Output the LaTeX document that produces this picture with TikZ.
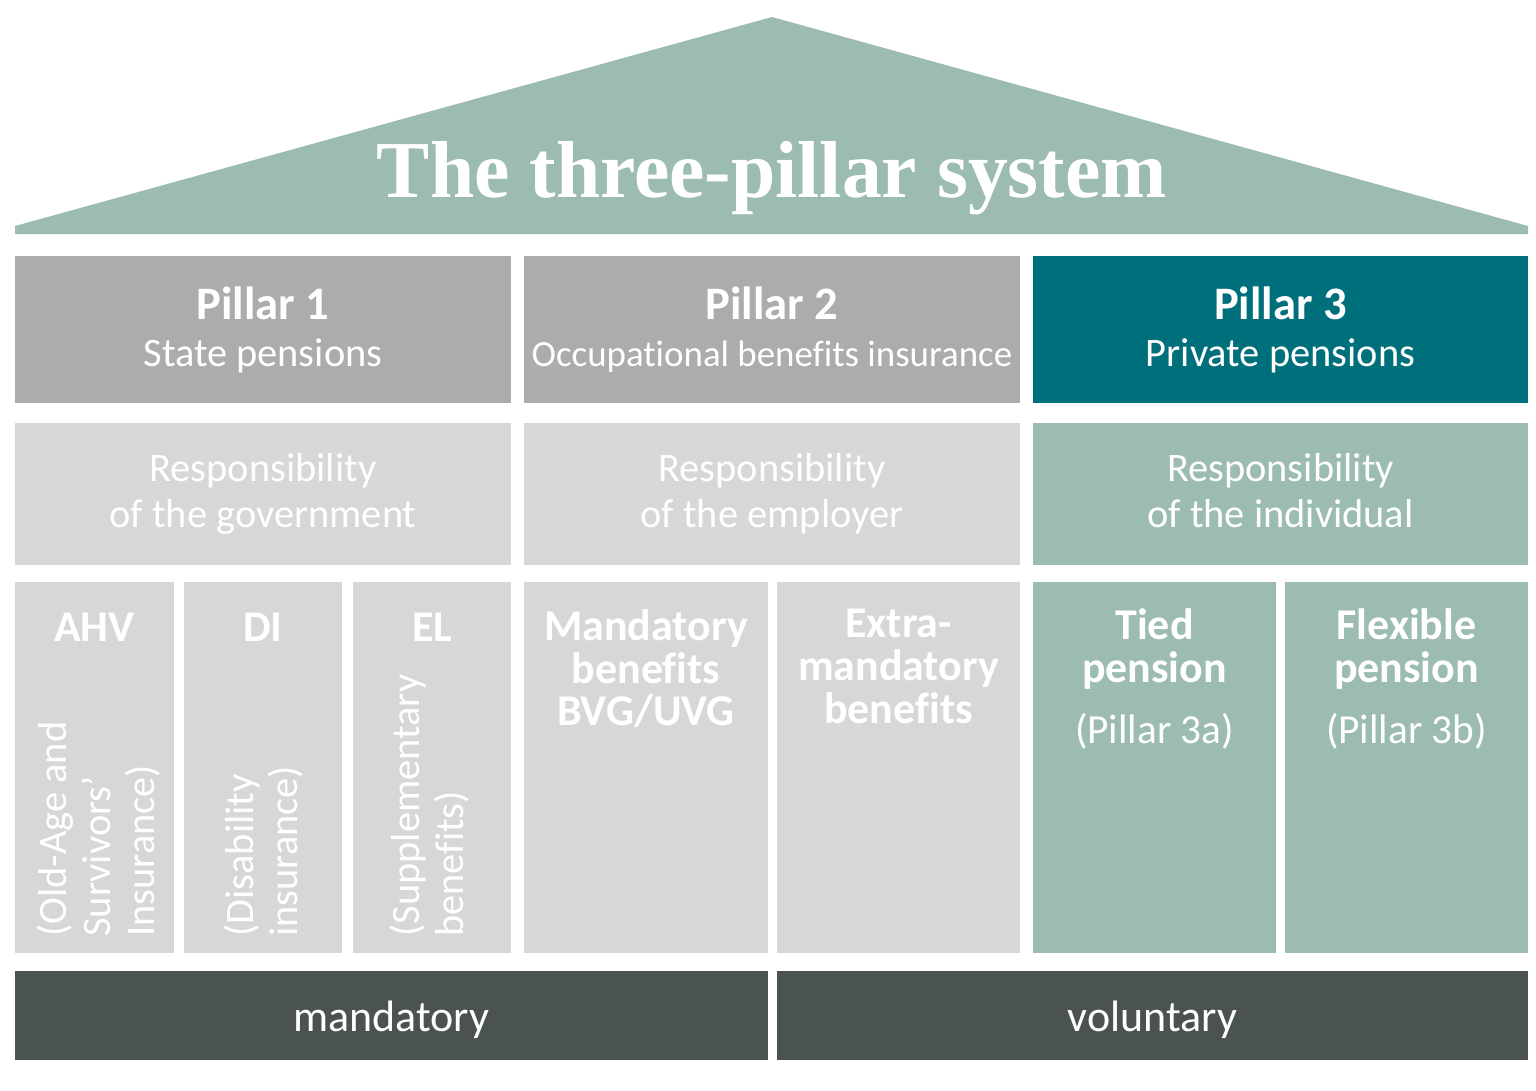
\documentclass[tikz,border=0pt]{standalone}
\usepackage{fontspec}
\setmainfont{Carlito}[Ligatures=NoCommon]
\newfontfamily\titlefont[FakeStretch=0.985]{Liberation Serif}
\usetikzlibrary{positioning}
\definecolor{roofgreen}{HTML}{9BBCAF}
\definecolor{pillargrey}{HTML}{ABACAE}
\definecolor{lightgrey}{HTML}{D6D8D8}
\definecolor{pillarteal}{HTML}{006F7C}
\definecolor{basedark}{HTML}{4A5351}
\tikzset{
	cell/.style 2 args={minimum width=#1*0.02cm, minimum height=#2*0.02cm, inner sep=0pt, outer sep=0pt},
	toptext/.style={text=white, align=center, font=\fontsize{23}{27}\selectfont, execute at begin node=\strut, execute at end node=\strut, yshift=-0.08cm},
	resptext/.style={text=white, align=center, font=\fontsize{23}{26}\selectfont, execute at begin node=\strut, execute at end node=\strut, yshift=-0.06cm},
	headtext/.style={text=white, align=center, font=\fontsize{25}{24.4}\selectfont\bfseries, anchor=north, inner sep=0pt},
	subtext/.style={text=white, font=\fontsize{23.5}{26}\selectfont, anchor=base},
	sidetext/.style={text=white, align=left, rotate=90, anchor=north west, inner sep=0pt, font=\fontsize{23}{25}\selectfont},
	basetext/.style={text=white, font=\fontsize{25}{28}\selectfont, yshift=-0.08cm},
}
\begin{document}
\begin{tikzpicture}[x=0.02cm,y=-0.02cm]
	\useasboundingbox (0,0) rectangle (1536,1090);
	
	% roof
	\fill[roofgreen] (15,234) -- (15,226) -- (772,17) -- (1528,226) -- (1528,234) -- cycle;
	\node[text=white, anchor=base, inner sep=0pt] (title) at (772,197) {\titlefont\bfseries\fontsize{46}{50}\selectfont The three-pillar system};
	
	% pillars
	\node[cell={496}{147}, fill=pillargrey] (p1) at (263,329.5) {};
	\node[cell={496}{147}, fill=pillargrey] (p2) at (772,329.5) {};
	\node[cell={495}{147}, fill=pillarteal] (p3) at (1280.5,329.5) {};
	\node[toptext] (p1text) at (p1) {{\bfseries\fontsize{26.5}{27}\selectfont Pillar 1}\\State pensions};
	\node[toptext] (p2text) at (p2) {{\bfseries\fontsize{26.5}{27}\selectfont Pillar 2}\\{\fontsize{21}{27}\selectfont Occupational benefits insurance}};
	\node[toptext] (p3text) at (p3) {{\bfseries\fontsize{26.5}{27}\selectfont Pillar 3}\\Private pensions};
	
	% responsibility
	\node[cell={496}{142}, fill=lightgrey] (r1) at (263,494) {};
	\node[cell={496}{142}, fill=lightgrey] (r2) at (772,494) {};
	\node[cell={495}{142}, fill=roofgreen] (r3) at (1280.5,494) {};
	\node[resptext] (r1text) at (r1) {Responsibility\\of the government};
	\node[resptext] (r2text) at (r2) {Responsibility\\of the employer};
	\node[resptext] (r3text) at (r3) {Responsibility\\of the individual};
	
	% columns
	\node[cell={159}{371}, fill=lightgrey] (ahv) at (94.5,767.5) {};
	\node[cell={158}{371}, fill=lightgrey] (di) at (263,767.5) {};
	\node[cell={158}{371}, fill=lightgrey] (el) at (432,767.5) {};
	\node[cell={244}{371}, fill=lightgrey] (bvg) at (646,767.5) {};
	\node[cell={243}{371}, fill=lightgrey] (extra) at (898.5,767.5) {};
	\node[cell={243}{371}, fill=roofgreen] (tied) at (1154.5,767.5) {};
	\node[cell={243}{371}, fill=roofgreen] (flex) at (1406.5,767.5) {};
	
	\node[headtext] (ahvhead) at (94.5,613) {AHV};
	\node[headtext] (dihead) at (263,613) {DI};
	\node[headtext] (elhead) at (432,613) {EL};
	\node[headtext] (bvghead) at (646,609) {Mandatory\\benefits\\BVG/UVG};
	\node[headtext] (extrahead) at (898.5,609) {Extra-\\mandatory\\benefits};
	\node[headtext] (tiedhead) at (1154.5,608) {Tied\\pension};
	\node[headtext] (flexhead) at (1406.5,608) {Flexible\\pension};
	\node[subtext] (tiedsub) at (1154.5,743) {(Pillar 3a)};
	\node[subtext] (flexsub) at (1406.5,743) {(Pillar 3b)};
	
	\node[sidetext] (ahvside) at (37,937) {(Old-Age and\\Survivors'\\Insurance)};
	\node[sidetext] (diside) at (224,937) {(Disability\\insurance)};
	\node[sidetext] (elside) at (390,937) {(Supplementary\\benefits)};
	
	% base
	\node[cell={753}{89}, fill=basedark] (mand) at (391.5,1015.5) {};
	\node[cell={751}{89}, fill=basedark] (vol) at (1152.5,1015.5) {};
	\node[basetext] (mandtext) at (mand) {mandatory};
	\node[basetext] (voltext) at (vol) {voluntary};
	
\end{tikzpicture}
\end{document}
